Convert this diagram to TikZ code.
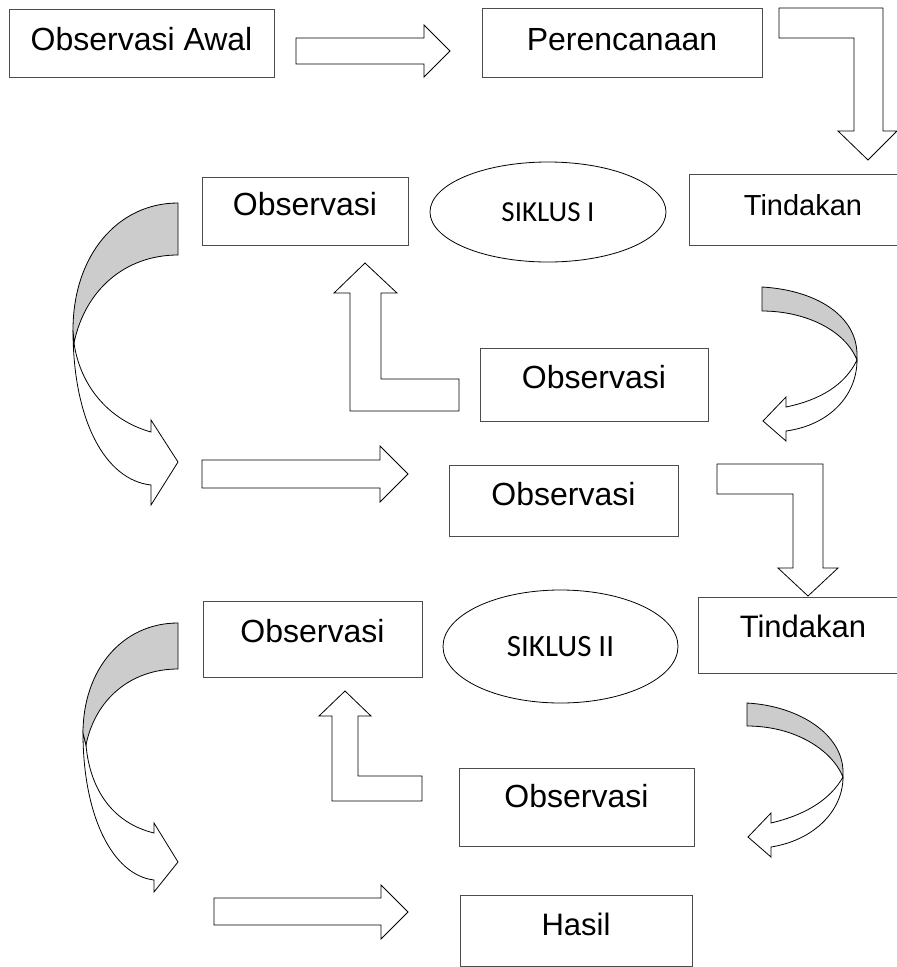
\documentclass[tikz,border=0pt]{standalone}
\usepackage{fontspec}
\usetikzlibrary{shapes.geometric}
\newfontfamily\arialf{Liberation Sans}
\newfontfamily\calibf{Carlito}
\begin{document}
\begin{tikzpicture}[x=1pt,y=-1pt,
  boxnode/.style={draw=black!70,line width=1pt,inner sep=0pt,anchor=base,font=\arialf\fontsize{32}{38}\selectfont},
  ellnode/.style={draw=black,line width=0.8pt,ellipse,inner sep=0pt},
  blockarrow/.style={draw=black,line width=0.8pt,fill=white,line join=miter},
  backband/.style={draw=black,line width=0.8pt,fill=black!20}
]
\useasboundingbox (0,0) rectangle (897,967);
\clip (0,0) rectangle (897,967);
% boxes: positioned by text baseline
\node[boxnode,minimum width=265pt,text height=41pt,text depth=27pt] (oa) at (141.5,50) {Observasi Awal};
\node[boxnode,minimum width=280pt,text height=42pt,text depth=27pt] (per) at (622,50) {Perencanaan};
\node[boxnode,minimum width=228pt,text height=41pt,text depth=30pt,font=\arialf\fontsize{29}{35}\selectfont] (tin1) at (803,215) {Tindakan};
\node[boxnode,minimum width=206pt,text height=38pt,text depth=30pt] (obs1) at (305,215) {Observasi};
\node[ellnode,minimum width=236pt,minimum height=100pt,font=\calibf\fontsize{29}{35}\selectfont] (sik1) at (548,212) {SIKLUS I};
\node[boxnode,minimum width=228pt,text height=40pt,text depth=33pt] (obs2) at (594,388) {Observasi};
\node[boxnode,minimum width=229pt,text height=40pt,text depth=31pt] (obs3) at (563.5,505) {Observasi};
\node[boxnode,minimum width=210pt,text height=40pt,text depth=36pt,font=\arialf\fontsize{31}{37}\selectfont] (tin2) at (803,637) {Tindakan};
\node[boxnode,minimum width=219pt,text height=41pt,text depth=35pt] (obs4) at (312.5,642) {Observasi};
\node[ellnode,minimum width=235pt,minimum height=113pt,font=\calibf\fontsize{31}{37}\selectfont] (sik2) at (560.5,646.5) {SIKLUS II};
\node[boxnode,minimum width=235pt,text height=39pt,text depth=39pt] (obs5) at (576.5,807) {Observasi};
\node[boxnode,minimum width=232pt,text height=40pt,text depth=31pt,font=\arialf\fontsize{31}{37}\selectfont] (has) at (576,935) {Hasil};
% straight block arrows
\draw[blockarrow] (296,38) -- (424,38) -- (424,25) -- (450,51) -- (424,77) -- (424,64) -- (296,64) -- cycle;
\draw[blockarrow] (202,460) -- (380,460) -- (380,446) -- (408,474) -- (380,502) -- (380,488) -- (202,488) -- cycle;
\draw[blockarrow] (214,898) -- (381,898) -- (381,885) -- (408,912) -- (381,939) -- (381,925) -- (214,925) -- cycle;
% bent arrows down
\draw[blockarrow] (779,8) -- (883,8) -- (883,131) -- (897,131) -- (868,160) -- (838,131) -- (854,131) -- (854,38) -- (779,38) -- cycle;
\draw[blockarrow] (717,464) -- (823,464) -- (823,568) -- (838,568) -- (808,596) -- (778,568) -- (793,568) -- (793,494) -- (717,494) -- cycle;
% bent arrows up
\draw[blockarrow] (365,263) -- (397,293) -- (381,293) -- (381,379) -- (459,379) -- (459,411) -- (350,411) -- (350,293) -- (334,293) -- cycle;
\draw[blockarrow] (345,691) -- (371,716) -- (358,716) -- (358,776) -- (422,776) -- (422,801) -- (332,801) -- (332,716) -- (319,716) -- cycle;
% left curved arrow 1
\draw[blockarrow] (73,330) .. controls (73,420) and (105,480) .. (151,485) -- (151,505) -- (178,462) -- (151,420) -- (151,432) .. controls (108,420) and (80,385) .. (74,343) -- cycle;
\draw[backband] (178,203) .. controls (118,203) and (73,255) .. (73,330) -- (74,343) .. controls (85,290) and (125,255) .. (178,255) -- cycle;
% left curved arrow 2
\draw[blockarrow] (83,733) .. controls (83,815) and (112,875) .. (154,880) -- (154,892) -- (178,862) -- (154,823) -- (154,833) .. controls (113,823) and (90,790) .. (86,745) -- cycle;
\draw[backband] (178,623) .. controls (122,623) and (83,670) .. (83,733) -- (86,745) .. controls (95,700) and (130,669) .. (178,669) -- cycle;
% right curved arrow 1
\draw[blockarrow] (857,360) .. controls (857,395) and (830,425) .. (786,431) -- (786,441) -- (763,421) -- (786,397) -- (786,407) .. controls (820,400) and (845,385) .. (857,360) -- cycle;
\draw[backband] (762,287) .. controls (815,290) and (857,315) .. (857,355) -- (857,360) .. controls (845,330) and (805,311) .. (762,311) -- cycle;
% right curved arrow 2
\draw[blockarrow] (843,777) .. controls (843,810) and (815,840) .. (771,847) -- (771,857) -- (748,837) -- (771,813) -- (771,823) .. controls (805,815) and (830,800) .. (843,777) -- cycle;
\draw[backband] (747,703) .. controls (800,706) and (843,735) .. (843,772) -- (843,777) .. controls (832,750) and (795,726) .. (747,726) -- cycle;
\end{tikzpicture}
\end{document}
